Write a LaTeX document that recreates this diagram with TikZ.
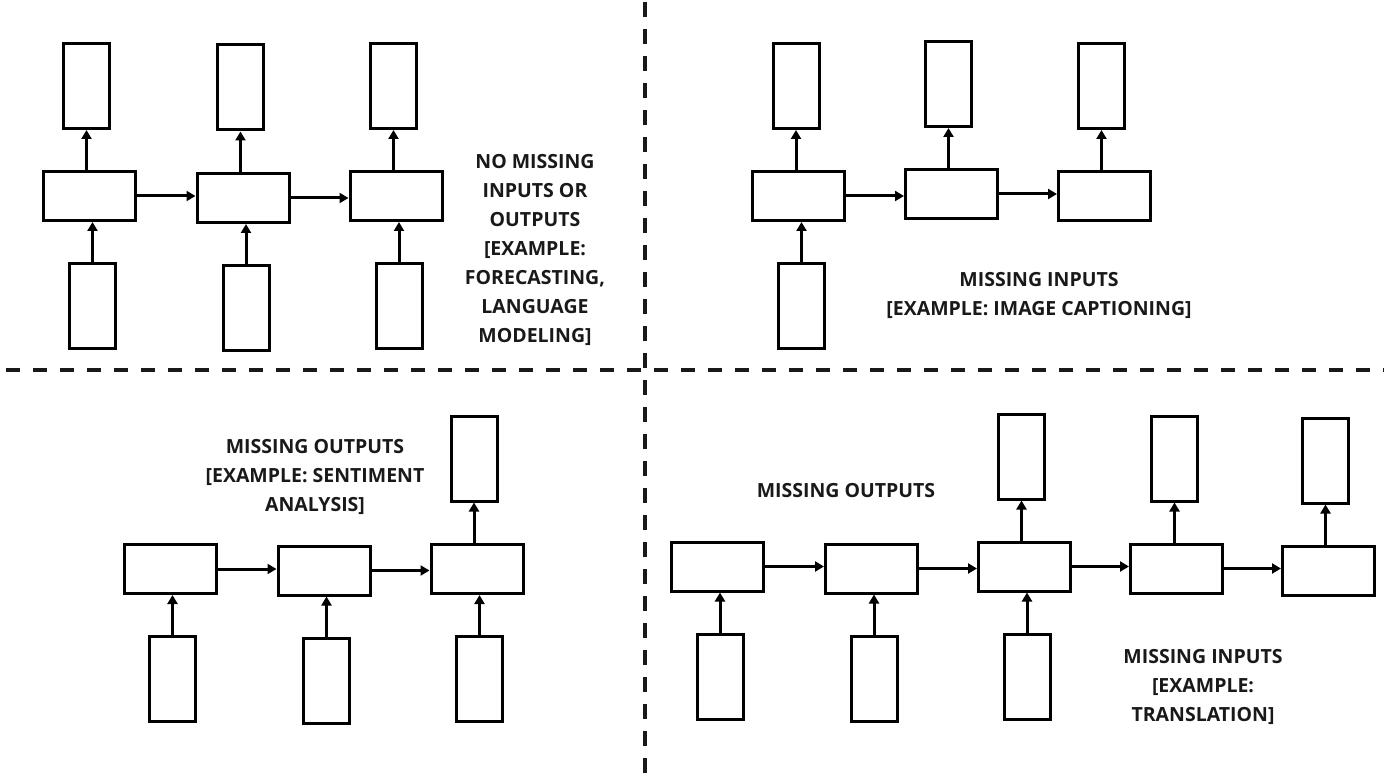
\documentclass[tikz,border=0pt]{standalone}
\usepackage{fontspec}
\setmainfont{Open Sans}
\usetikzlibrary{arrows.meta}

\begin{document}
\begin{tikzpicture}[x=1pt, y=-1pt,
  tall/.style = {draw, line width=3pt, minimum width=46pt, minimum height=85pt, inner sep=0pt},
  wide/.style = {draw, line width=3pt, minimum width=92pt, minimum height=49pt, inner sep=0pt},
  flow/.style = {line width=3pt, -{Triangle[length=9pt, width=10pt]}},
  caption/.style = {align=center, font=\fontsize{19.5}{29}\selectfont\bfseries, text=black!90},
  split/.style = {line width=3.5pt, black!90}]
\useasboundingbox (0,0) rectangle (1384,783);

% dividers
\draw[split, dash pattern=on 14pt off 13pt, dash phase=21pt] (0,370) -- (1384,370);
\draw[split, dash pattern=on 15pt off 12pt, dash phase=25pt] (645,0) -- (645,783);

% top left: no missing inputs or outputs
\node[tall] at (86.5, 86)  (a1) {};
\node[tall] at (240.5, 87.5) (a2) {};
\node[tall] at (393.5, 86) (a3) {};
\node[wide] at (89.5, 196) (b1) {};
\node[wide] at (243, 198)  (b2) {};
\node[wide] at (396, 196)  (b3) {};
\node[tall] at (92.5, 306) (c1) {};
\node[tall] at (246, 308)  (c2) {};
\node[tall] at (399, 306)  (c3) {};
\node[caption] at (535, 250) (tA) {NO MISSING\\INPUTS OR\\OUTPUTS\\{[EXAMPLE:}\\FORECASTING,\\LANGUAGE\\MODELING]};

\foreach \i in {1,2,3} {
  \draw[flow] (c\i.north) -- (c\i.north |- b\i.south);
  \draw[flow] (a\i.south |- b\i.north) -- (a\i.south);
}
\draw[flow] (b1.east) -- (b1.east -| b2.west);
\draw[flow] (b2.east) -- (b2.east -| b3.west);

% top right: missing inputs
\node[tall] at (796, 86)     (d1) {};
\node[tall] at (948.5, 84)   (d2) {};
\node[tall] at (1101.5, 86)  (d3) {};
\node[wide] at (798.5, 196)  (e1) {};
\node[wide] at (951.5, 194)  (e2) {};
\node[wide] at (1104.5, 196) (e3) {};
\node[tall] at (801.5, 306)  (f1) {};
\node[caption] at (1039, 295) (tB) {MISSING INPUTS\\{[EXAMPLE: IMAGE CAPTIONING]}};

\foreach \i in {1,2,3}
  \draw[flow] (d\i.south |- e\i.north) -- (d\i.south);
\draw[flow] (f1.north) -- (f1.north |- e1.south);
\draw[flow] (e1.east) -- (e1.east -| e2.west);
\draw[flow] (e2.east) -- (e2.east -| e3.west);

% bottom left: missing outputs
\node[tall] at (474, 458.5)  (g3) {};
\node[wide] at (170.5, 569)  (h1) {};
\node[wide] at (324, 570.5)  (h2) {};
\node[wide] at (477, 569)    (h3) {};
\node[tall] at (172.5, 679)  (k1) {};
\node[tall] at (326.5, 681)  (k2) {};
\node[tall] at (479.5, 679)  (k3) {};
\node[caption] at (315, 477) (tC) {MISSING OUTPUTS\\{[EXAMPLE: SENTIMENT}\\ANALYSIS]};

\foreach \i in {1,2,3}
  \draw[flow] (k\i.north) -- (k\i.north |- h\i.south);
\draw[flow] (g3.south |- h3.north) -- (g3.south);
\draw[flow] (h1.east) -- (h1.east -| h2.west);
\draw[flow] (h2.east) -- (h2.east -| h3.west);

% bottom right: missing outputs, then missing inputs
\node[tall] at (1021.5, 456.5) (m3) {};
\node[tall] at (1174.5, 458.5) (m4) {};
\node[tall] at (1325.5, 460.5) (m5) {};
\node[wide] at (717.5, 566.5)  (n1) {};
\node[wide] at (871.5, 568.5)  (n2) {};
\node[wide] at (1024.5, 566.5) (n3) {};
\node[wide] at (1176.5, 568.5) (n4) {};
\node[wide] at (1328.5, 570.5) (n5) {};
\node[tall] at (720, 676.5)    (p1) {};
\node[tall] at (874, 678.5)    (p2) {};
\node[tall] at (1027, 676.5)   (p3) {};
\node[caption] at (846, 491)   (tD) {MISSING OUTPUTS};
\node[caption] at (1203, 687)  (tE) {MISSING INPUTS\\{[EXAMPLE:}\\TRANSLATION]};

\foreach \i in {1,2,3}
  \draw[flow] (p\i.north) -- (p\i.north |- n\i.south);
\foreach \i in {3,4,5}
  \draw[flow] (m\i.south |- n\i.north) -- (m\i.south);
\foreach \i/\j in {1/2,2/3,3/4,4/5}
  \draw[flow] (n\i.east) -- (n\i.east -| n\j.west);

\end{tikzpicture}
\end{document}
